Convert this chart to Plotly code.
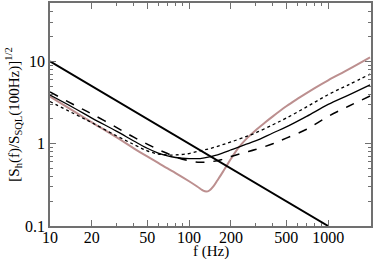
import plotly.graph_objects as go

FREQ = [10, 15, 20, 30, 40, 50, 60, 70, 80, 100, 120, 140, 170, 200,
        250, 300, 400, 500, 700, 1000, 1400, 2000]

# Normalised noise amplitude, one list per curve
SOLID = [3.9, 2.7, 2.05, 1.42, 1.08, 0.88, 0.77, 0.71, 0.68, 0.66, 0.66,
         0.69, 0.76, 0.84, 0.97, 1.08, 1.35, 1.6, 2.15, 3.0, 3.9, 5.2]
DASHED = [4.25, 2.95, 2.3, 1.58, 1.2, 0.99, 0.85, 0.76, 0.69, 0.62, 0.595,
          0.6, 0.64, 0.70, 0.78, 0.85, 1.0, 1.17, 1.5, 2.15, 2.85, 3.8]
DOTTED = [3.25, 2.3, 1.8, 1.25, 0.98, 0.82, 0.75, 0.73, 0.73, 0.76, 0.82,
          0.87, 0.96, 1.05, 1.2, 1.35, 1.7, 2.05, 2.8, 3.95, 5.2, 7.0]

# The detuned curve has its own, denser sampling around the dip
PINK_FREQ = [10, 15, 20, 30, 40, 50, 60, 70, 80, 100, 115, 125, 133, 140,
             150, 160, 175, 185, 200, 215, 230, 260, 300, 350, 400, 500,
             600, 800, 1000, 1400, 2000]
PINK = [3.75, 2.45, 1.82, 1.2, 0.88, 0.70, 0.585, 0.50, 0.44, 0.35, 0.30,
        0.272, 0.262, 0.27, 0.305, 0.36, 0.455, 0.53, 0.655, 0.79, 0.92, 1.16,
        1.45, 1.8, 2.15, 2.85, 3.5, 4.75, 5.9, 8.0, 11.2]

# Standard quantum limit, straight line in log-log
SQL_FREQ = [10, 1000]
SQL = [10, 0.1]

X_TICKS = [10, 20, 50, 100, 200, 500, 1000]
Y_TICKS = [0.1, 1, 10]

FONT = "Liberation Serif"
AXIS_COLOR = "#707070"

fig = go.Figure()

fig.add_trace(go.Scatter(x=PINK_FREQ, y=PINK, mode="lines", line_shape="spline",
                         line=dict(color="#bc8f8f", width=2)))
fig.add_trace(go.Scatter(x=FREQ, y=DOTTED, mode="lines", line_shape="spline",
                         line=dict(color="black", width=1.3, dash="dot")))
fig.add_trace(go.Scatter(x=FREQ, y=DASHED, mode="lines", line_shape="spline",
                         line=dict(color="black", width=1.5, dash="dash")))
fig.add_trace(go.Scatter(x=FREQ, y=SOLID, mode="lines", line_shape="spline",
                         line=dict(color="black", width=1.3)))
fig.add_trace(go.Scatter(x=SQL_FREQ, y=SQL, mode="lines",
                         line=dict(color="black", width=2)))

axis_common = dict(
    type="log",
    showline=True, linecolor=AXIS_COLOR, linewidth=1.5, mirror="ticks",
    ticks="inside", ticklen=6, tickcolor=AXIS_COLOR, tickwidth=1,
    minor=dict(ticks="inside", ticklen=3, tickcolor=AXIS_COLOR, dtick="D1"),
    showgrid=False, zeroline=False,
    tickfont=dict(family=FONT, size=16, color="black"),
)

fig.update_xaxes(
    **axis_common,
    range=[1, 3.308],
    tickvals=X_TICKS, ticktext=[str(v) for v in X_TICKS],
    ticklabelstandoff=-4,
)
fig.update_yaxes(
    **axis_common,
    range=[-1, 1.71],
    tickvals=Y_TICKS, ticktext=["0.1", "1", "10"],
    title=dict(text="[S<sub>h</sub>(f)/S<sub>SQL</sub>(100Hz)]<sup>1/2</sup>",
               font=dict(family=FONT, size=15, color="black"), standoff=2),
)

# x title as an annotation so it sits clear of the tick labels
fig.add_annotation(text="f (Hz)", xref="paper", yref="paper", x=0.5, y=0,
                   yshift=-25, yanchor="middle", showarrow=False,
                   font=dict(family=FONT, size=15, color="black"))

fig.update_layout(
    width=374, height=259,
    margin=dict(l=50, r=2, t=1, b=33),
    paper_bgcolor="white", plot_bgcolor="white",
    showlegend=False,
)

# the page body has a default 8px margin; drop it so the figure sits at 0,0
fig.write_html("out.html", config={"displayModeBar": False},
               post_script="document.body.style.margin='0';")
